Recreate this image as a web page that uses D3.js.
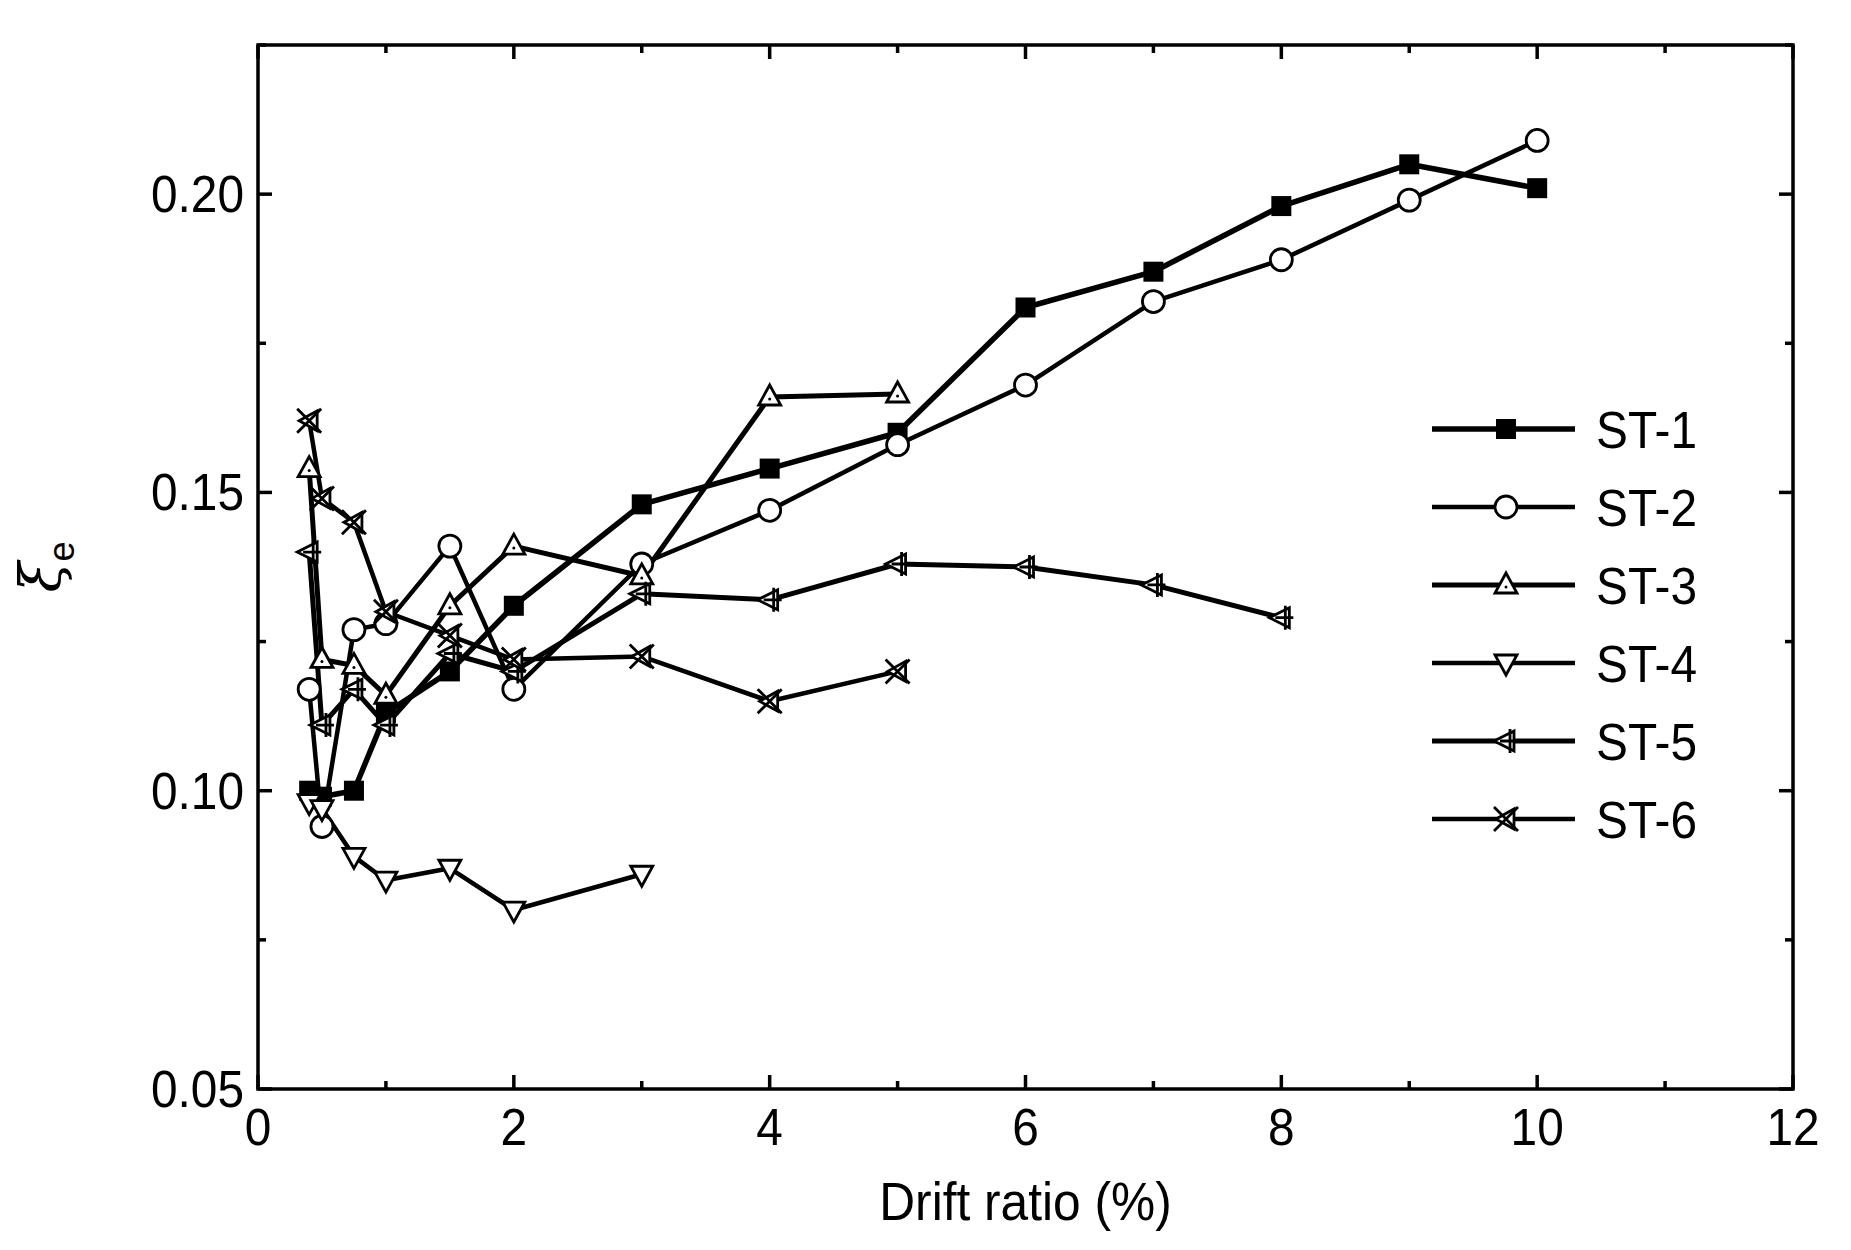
<!DOCTYPE html><html><head><meta charset="utf-8">
<script src="https://cdn.jsdelivr.net/npm/d3@7"></script>
<style>body{margin:0;background:#fff}text{font-family:"Liberation Sans",Arial,sans-serif}</style></head>
<body><svg id="c" width="1851" height="1250"></svg>
<script>
const seriesNames=["ST-1","ST-2","ST-3","ST-4","ST-5","ST-6"];
const st1=[[0.4,0.100],[0.5,0.099],[0.75,0.100],[1,0.113],[1.5,0.120],[2,0.131],[3,0.148],[4,0.154],[5,0.160],[6,0.181],[7,0.187],[8,0.198],[9,0.205],[10,0.201]];
const st2=[[0.4,0.117],[0.5,0.094],[0.75,0.127],[1,0.128],[1.5,0.141],[2,0.117],[3,0.138],[4,0.147],[5,0.158],[6,0.168],[7,0.182],[8,0.189],[9,0.199],[10,0.209]];
const st3=[[0.4,0.154],[0.5,0.122],[0.75,0.121],[1,0.116],[1.5,0.131],[2,0.141],[3,0.136],[4,0.166],[5,0.1665]];
const st4=[[0.4,0.098],[0.5,0.097],[0.75,0.089],[1,0.085],[1.5,0.087],[2,0.080],[3,0.086]];
const st5=[[0.4,0.140],[0.5,0.111],[0.75,0.117],[1,0.111],[1.5,0.123],[2,0.120],[3,0.133],[4,0.132],[5,0.138],[6,0.1375],[7,0.1345],[8,0.129]];
const st6=[[0.4,0.162],[0.5,0.149],[0.75,0.145],[1,0.130],[1.5,0.126],[2,0.122],[3,0.1225],[4,0.115],[5,0.120]];
const xTicks=[0,2,4,6,8,10,12], yTicks=[0.05,0.10,0.15,0.20];
const data=[st1,st2,st3,st4,st5,st6];
const L=258,R=1793,T=45,B=1089;
const svg=d3.select("#c");
const x=d3.scaleLinear().domain([0,12]).range([L,R]);
const y=d3.scaleLinear().domain([0.05,0.225]).range([B,T]);
svg.append("rect").attr("x",L).attr("y",T).attr("width",R-L).attr("height",B-T).attr("fill","none").attr("stroke","#000").attr("stroke-width",3.5);
const xmin=d3.range(0,12.01,1), ymin=d3.range(0.05,0.2251,0.025);
xmin.forEach(v=>{const len=(v%2===0)?14:8;
 svg.append("line").attr("x1",x(v)).attr("x2",x(v)).attr("y1",B).attr("y2",B-len).attr("stroke","#000").attr("stroke-width",3.5);
 svg.append("line").attr("x1",x(v)).attr("x2",x(v)).attr("y1",T).attr("y2",T+len).attr("stroke","#000").attr("stroke-width",3.5);});
ymin.forEach((v,i)=>{const len=(i%2===0)?14:8;
 svg.append("line").attr("x1",L).attr("x2",L+len).attr("y1",y(v)).attr("y2",y(v)).attr("stroke","#000").attr("stroke-width",3.5);
 svg.append("line").attr("x1",R).attr("x2",R-len).attr("y1",y(v)).attr("y2",y(v)).attr("stroke","#000").attr("stroke-width",3.5);});
xTicks.forEach(v=>svg.append("text").attr("x",x(v)).attr("y",B+56).attr("text-anchor","middle").attr("font-size",52).attr("transform",`translate(${x(v)},0) scale(0.92,1) translate(${-x(v)},0)`).text(v));
yTicks.forEach(v=>svg.append("text").attr("x",L-14).attr("y",y(v)+18).attr("text-anchor","end").attr("font-size",52).attr("transform",`translate(${L-14},0) scale(0.92,1) translate(${-(L-14)},0)`).text(v.toFixed(2)));
svg.append("text").attr("x",(L+R)/2).attr("y",1220).attr("text-anchor","middle").attr("font-size",54).attr("transform",`translate(${(L+R)/2},0) scale(0.92,1) translate(${-(L+R)/2},0)`).text("Drift ratio (%)");
const yl=svg.append("text").attr("transform","translate(60,567) rotate(-90)").attr("text-anchor","middle").attr("font-size",56);
yl.append("tspan").attr("font-family","DejaVu Serif").attr("font-style","italic").text("ξ");
yl.append("tspan").attr("font-size",36).attr("dy",14).text("e");
function marker(g,k,cx,cy){
 const s=10,sw=2.8;
 const p=(d)=>g.append("path").attr("d",d).attr("stroke","#000").attr("stroke-width",sw);
 if(k===0) g.append("rect").attr("x",cx-s).attr("y",cy-s).attr("width",2*s).attr("height",2*s).attr("fill","#000");
 if(k===1) g.append("circle").attr("cx",cx).attr("cy",cy).attr("r",s+1).attr("fill","#fff").attr("stroke","#000").attr("stroke-width",sw);
 if(k===2){p(`M${cx},${cy-s-2}L${cx+s+1},${cy+s-2}L${cx-s-1},${cy+s-2}Z`).attr("fill","#fff");g.append("circle").attr("cx",cx).attr("cy",cy+2).attr("r",1.5);}
 if(k===3) p(`M${cx},${cy+s+2}L${cx+s+1},${cy-s+2}L${cx-s-1},${cy-s+2}Z`).attr("fill","#fff");
 if(k===4){p(`M${cx-s-2},${cy}L${cx+s-2},${cy-s}L${cx+s-2},${cy+s}Z`).attr("fill","#fff");p(`M${cx+4},${cy-s-2}V${cy+s+2}M${cx-6},${cy}H${cx+12}`).attr("fill","none");}
 if(k===5){p(`M${cx-s},${cy}L${cx+s-2},${cy-s}L${cx+s-2},${cy+s}Z`).attr("fill","#fff");p(`M${cx-s-2},${cy-s-2}L${cx+s+2},${cy+s+2}M${cx-s-2},${cy+s+2}L${cx+s+2},${cy-s-2}`).attr("fill","none");}
}
const lw=[5.5,4.5,5,4.5,5,4.5];
const line=d3.line().x(d=>x(d[0])).y(d=>y(d[1]));
data.forEach((ds,k)=>svg.append("path").datum(ds).attr("d",line).attr("fill","none").attr("stroke","#000").attr("stroke-width",lw[k]).attr("stroke-linejoin","round"));
data.forEach((ds,k)=>{const g=svg.append("g");ds.forEach(d=>marker(g,k,x(d[0]),y(d[1])));});
seriesNames.forEach((n,i)=>{const ly=429+i*78;
 svg.append("line").attr("x1",1432).attr("x2",1575).attr("y1",ly).attr("y2",ly).attr("stroke","#000").attr("stroke-width",lw[i]);
 marker(svg.append("g"),i,1506,ly);
 svg.append("text").attr("x",1596).attr("y",ly+19).attr("font-size",52).attr("transform",`translate(1596,0) scale(0.92,1) translate(-1596,0)`).text(n);});
</script></body></html>
